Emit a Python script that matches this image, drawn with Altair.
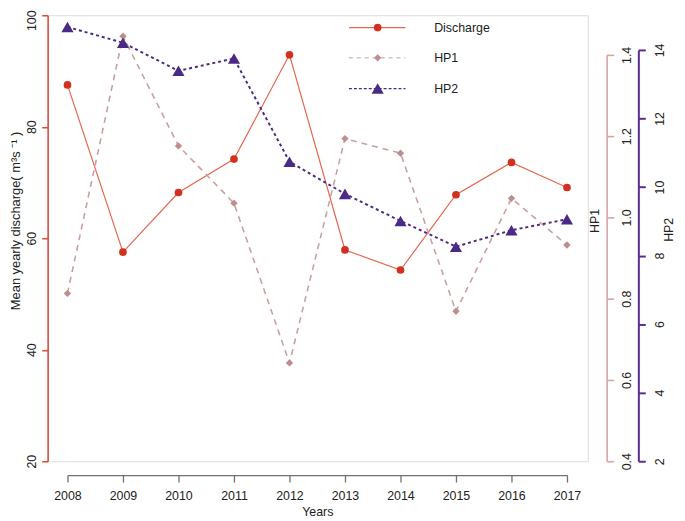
import altair as alt
import pandas as pd

years = [2008, 2009, 2010, 2011, 2012, 2013, 2014, 2015, 2016, 2017]
discharge = [87.5, 57.5, 68.2, 74.2, 92.9, 57.9, 54.3, 67.8, 73.6, 69.1]
hp1 = [0.813, 1.446, 1.176, 1.035, 0.642, 1.194, 1.158, 0.769, 1.047, 0.932]
hp2 = [14.67, 14.21, 13.39, 13.75, 10.74, 9.80, 9.01, 8.26, 8.74, 9.06]

left_ticks = [20, 40, 60, 80, 100]
hp1_ticks = [0.4, 0.6, 0.8, 1.0, 1.2, 1.4]
hp2_ticks = [2, 4, 6, 8, 10, 12, 14]

FONT = "Liberation Sans"
FS = 12.5
RED_LINE = "#E8664F"
RED_PT = "#D3301F"
PINK_LINE = "#C9A0A0"
PINK_PT = "#BC8E8E"
PURPLE = "#4B2A85"
RED_AX = "#D9503F"
PINK_AX = "#D8A4A4"
PURPLE_AX = "#5B2C91"

df = pd.DataFrame({"year": years, "Discharge": discharge, "HP1": hp1, "HP2": hp2})

x_enc = alt.X(
    "year:Q",
    scale=alt.Scale(domain=[2008, 2017], range=[20, 524], nice=False, zero=False),
    axis=alt.Axis(
        orient="bottom", offset=14, values=years, format="d",
        domainColor="#707070", tickColor="#707070", domainWidth=1.3, tickWidth=1.3,
        tickSize=7, labelPadding=8, labelFontSize=FS, labelColor="#222",
        labelFont=FONT, labelFlush=False, labelOverlap=False, grid=False,
        title="Years", titleFont=FONT, titleFontSize=FS, titleFontWeight="normal",
        titleColor="#222", titleY=41, titleBaseline="alphabetic",
    ),
)

base = alt.Chart(df)

dis = base.mark_line(
    color=RED_LINE, strokeWidth=1.2,
    point=alt.OverlayMarkDef(filled=True, shape="circle", size=60, color=RED_PT, opacity=1),
).encode(
    x=x_enc,
    y=alt.Y(
        "Discharge:Q",
        scale=alt.Scale(domain=[20, 100], nice=False, zero=False),
        axis=alt.Axis(
            orient="left", values=left_ticks, domainColor=RED_AX, tickColor=RED_AX,
            domainWidth=1.6, tickWidth=1.6, tickSize=6, labelAngle=270,
            labelAlign="center", labelBaseline="middle", labelPadding=10,
            labelOffset={"condition": {"test": "datum.value == 100", "value": 5}, "value": 0},
            labelFontSize=FS, labelFont=FONT, labelColor="#222", labelFlush=False,
            labelOverlap=False, grid=False,
            title="Mean yearly discharge( m³s ⁻¹ )", titleAngle=270, titleX=-32,
            titleY=207, titleAlign="center", titleBaseline="middle",
            titleFont=FONT, titleFontSize=13, titleFontWeight="normal", titleColor="#222",
        ),
    ),
)

h1 = base.mark_line(
    color=PINK_LINE, strokeWidth=1.6, strokeDash=[6, 5],
    point=alt.OverlayMarkDef(filled=True, shape="diamond", size=55, color=PINK_PT, opacity=1),
).encode(
    x=x_enc,
    y=alt.Y(
        "HP1:Q",
        scale=alt.Scale(domain=[0.4, 1.4], range=[450, 40], nice=False, zero=False),
        axis=alt.Axis(
            orient="right", offset=19, values=hp1_ticks, format=".1f",
            domainColor=PINK_AX, tickColor=PINK_AX, domainWidth=1.6, tickWidth=1.6,
            tickSize=7, labelAngle=270, labelAlign="center", labelBaseline="middle",
            labelPadding=13, labelFontSize=FS, labelFont=FONT, labelColor="#222",
            labelFlush=False, labelOverlap=False, grid=False,
            title="HP1", titleAngle=270, titleX=-12, titleY=207, titleAlign="center",
            titleBaseline="middle", titleFont=FONT, titleFontSize=FS,
            titleFontWeight="normal", titleColor="#222",
        ),
    ),
)

h2 = base.mark_line(
    color=PURPLE, strokeWidth=2, strokeDash=[3, 3],
    point=alt.OverlayMarkDef(filled=True, shape="triangle-up", size=150, color=PURPLE, opacity=1),
).encode(
    x=x_enc,
    y=alt.Y(
        "HP2:Q",
        scale=alt.Scale(domain=[2, 14], range=[450, 35], nice=False, zero=False),
        axis=alt.Axis(
            orient="right", offset=51, values=hp2_ticks, format="d",
            domainColor=PURPLE_AX, tickColor=PURPLE_AX, domainWidth=2, tickWidth=2,
            tickSize=7, labelAngle=270, labelAlign="center", labelBaseline="middle",
            labelPadding=14, labelFontSize=FS, labelFont=FONT, labelColor="#222",
            labelFlush=False, labelOverlap=False, grid=False,
            title="HP2", titleAngle=270, titleX=30, titleY=216, titleAlign="center",
            titleBaseline="middle", titleFont=FONT, titleFontSize=FS,
            titleFontWeight="normal", titleColor="#222",
        ),
    ),
)

# legend (drawn manually, like R's legend())
legend_names = ["Discharge", "HP1", "HP2"]
legend_rows = [12.5, 43, 74]
legend_styles = [
    dict(line=RED_LINE, width=1.2, dash=[1, 0], shape="circle", size=60, pt=RED_PT),
    dict(line=PINK_LINE, width=1.0, dash=[4, 4], shape="diamond", size=55, pt=PINK_PT),
    dict(line=PURPLE, width=1.2, dash=[3, 2], shape="triangle-up", size=150, pt=PURPLE),
]
legend_layers = []
for name, yy, st in zip(legend_names, legend_rows, legend_styles):
    ldf = pd.DataFrame({"label": [name]})
    lb = alt.Chart(ldf)
    legend_layers.append(
        lb.mark_rule(color=st["line"], strokeWidth=st["width"], strokeDash=st["dash"]).encode(
            x=alt.value(304), x2=alt.value(361), y=alt.value(yy)
        )
    )
    legend_layers.append(
        lb.mark_point(filled=True, shape=st["shape"], size=st["size"], color=st["pt"], opacity=1).encode(
            x=alt.value(333), y=alt.value(yy)
        )
    )
    legend_layers.append(
        lb.mark_text(align="left", baseline="middle", font=FONT, fontSize=FS, color="#222").encode(
            x=alt.value(390), y=alt.value(yy), text="label:N"
        )
    )

chart = (
    alt.layer(dis, h1, h2, *legend_layers)
    .resolve_scale(y="independent")
    .properties(
        width=545,
        height=450,
        autosize=alt.AutoSizeParams(type="none"),
        padding={"left": 40, "top": 5, "right": 90, "bottom": 57},
    )
    .configure_view(stroke=None)
    .configure(font=FONT)
)

chart.save("out.html", embed_options={"renderer": "svg", "actions": False})
